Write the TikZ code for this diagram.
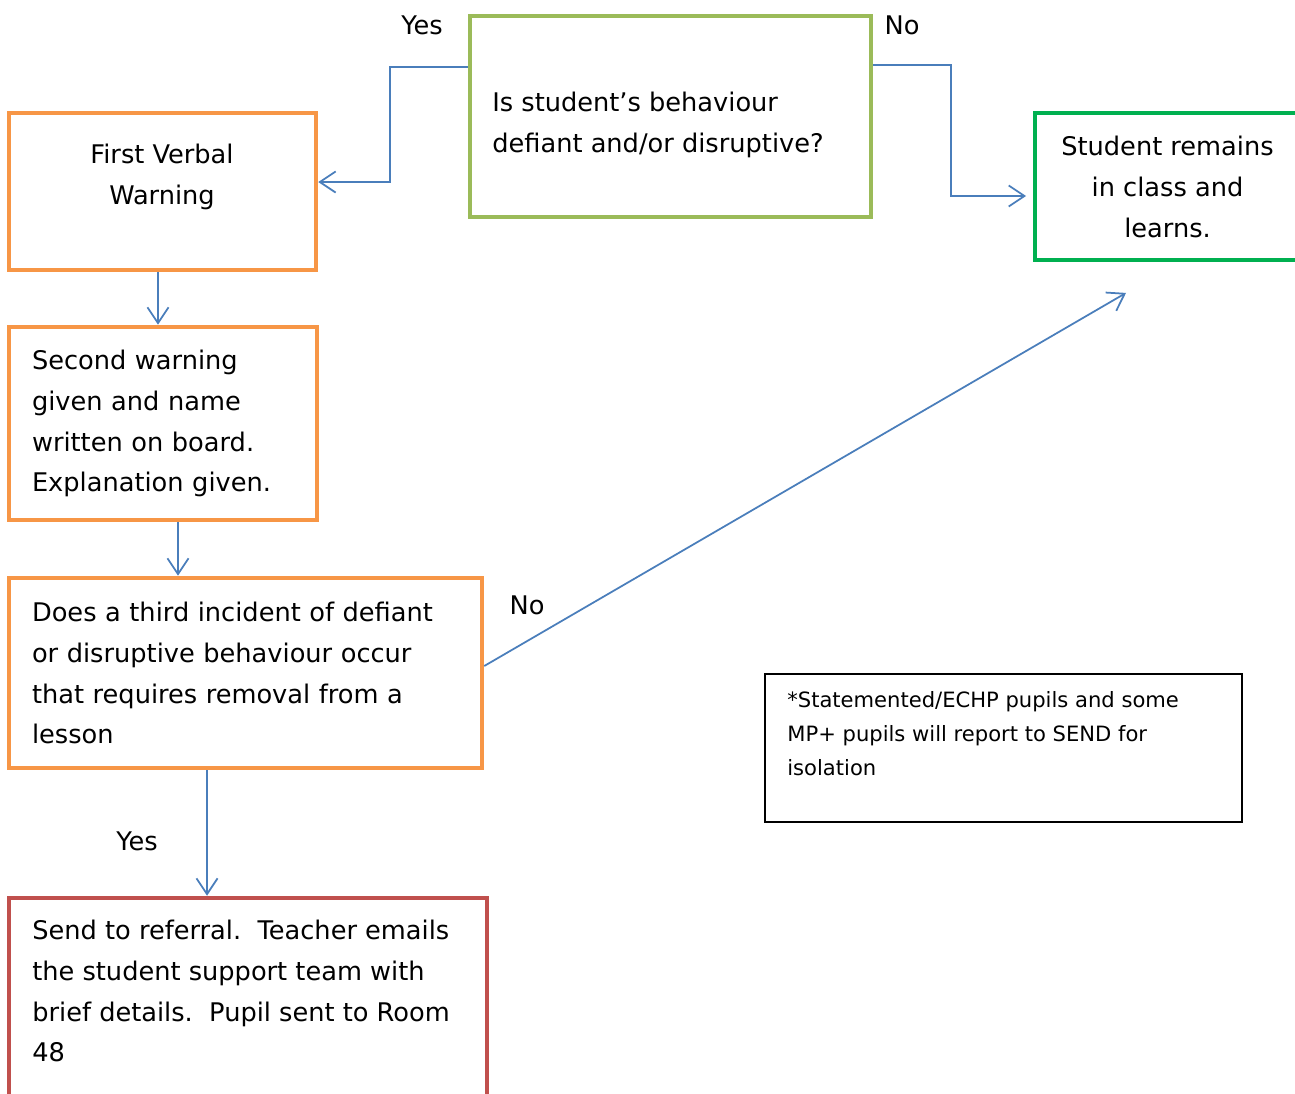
\documentclass[tikz,border=0pt]{standalone}
\usepackage{fontspec}
\setmainfont{DejaVu Sans}
\usetikzlibrary{arrows.meta,positioning,calc}
\definecolor{boxOrange}{RGB}{247,150,70}
\definecolor{boxOlive}{RGB}{155,187,89}
\definecolor{boxGreen}{RGB}{0,176,80}
\definecolor{boxRed}{RGB}{192,80,77}
\definecolor{lineBlue}{RGB}{74,126,187}
\newcommand{\bodyfont}{\fontsize{14.6pt}{23.3pt}\selectfont}
\newcommand{\notefont}{\fontsize{12pt}{19.3pt}\selectfont}

\begin{document}
\begin{tikzpicture}[x=0.02cm, y=-0.02cm,
    stepbox/.style={draw=#1, line width=2.6pt, inner sep=0pt, font=\bodyfont},
    bodytext/.style={font=\bodyfont, inner sep=0pt},
    answer/.style={font=\bodyfont, inner sep=0pt},
    flow/.style={draw=lineBlue, line width=1pt, -{Straight Barb[length=9pt,width=12pt]}}]

\useasboundingbox (0,0) rectangle (1295,1093);

% boxes
\node[stepbox=boxOlive, line width=2.2pt, minimum width=8.02cm, minimum height=4.02cm] (q1) at (670.5,116.5) {};
\node[bodytext, align=left, anchor=west] (q1txt) at (492,125) {Is student’s behaviour\\defiant and/or disruptive?};

\node[stepbox=boxOrange, minimum width=6.14cm, minimum height=3.14cm] (warn1) at (162.5,191.5) {};
\node[bodytext, align=center] (warn1txt) at (162,177) {First Verbal\\Warning};

\node[stepbox=boxGreen, line width=2.2pt, minimum width=5.30cm, minimum height=2.94cm, align=center] (stay) at (1167.5,186.5) {Student remains\\in class and\\learns.};

\node[stepbox=boxOrange, minimum width=6.16cm, minimum height=3.86cm, text width=5.24cm, align=left] (warn2) at (163,423.5) {Second warning\\given and name\\written on board.\\Explanation given.};

\node[stepbox=boxOrange, minimum width=9.46cm, minimum height=3.80cm, text width=8.54cm, align=left] (third) at (245.5,673) {Does a third incident of defiant\\or disruptive behaviour occur\\that requires removal from a\\lesson};

\node[stepbox=boxRed, minimum width=9.56cm, minimum height=4.04cm] (referral) at (248,999) {};
\node[bodytext, align=left, anchor=west] (referraltxt) at (32,991) {Send to referral.\ \ Teacher emails\\the student support team with\\brief details.\ \ Pupil sent to Room\\48};

\node[draw=black, line width=1pt, minimum width=9.54cm, minimum height=2.96cm] (note) at (1003.5,748) {};
\node[font=\notefont, inner sep=0pt, align=left, anchor=west] (notetxt) at (787,734) {*Statemented/ECHP pupils and some\\MP+ pupils will report to SEND for\\isolation};

% answers
\node[answer] (yes1) at (422,25) {Yes};
\node[answer] (no1) at (902,25) {No};
\node[answer] (no2) at (527,605) {No};
\node[answer] (yes2) at (137,841) {Yes};

% connectors
\draw[flow] ($(q1.west)+(0,-49.5)$) -- ++(-78,0) |- ($(warn1.east)+(0,-9.5)$);
\draw[flow, shorten >=0.14cm] ($(q1.east)+(0,-51.5)$) -- ++(78,0) |- ($(stay.west)+(0,9.5)$);
\draw[flow] ([xshift=-0.09cm]warn1.south) -- ([xshift=-0.09cm]warn1.south |- warn2.north);
\draw[flow] ([xshift=0.3cm]warn2.south) -- ([xshift=0.3cm]warn2.south |- third.north);
\draw[flow] ([xshift=-0.77cm]third.south) -- ([xshift=-0.77cm]third.south |- referral.north);
\coordinate (backtip) at ($(stay.south)+(-41.5,31)$);
\draw[flow] ($(third.east)+(0,-7)$) -- (backtip);
\end{tikzpicture}
\end{document}
